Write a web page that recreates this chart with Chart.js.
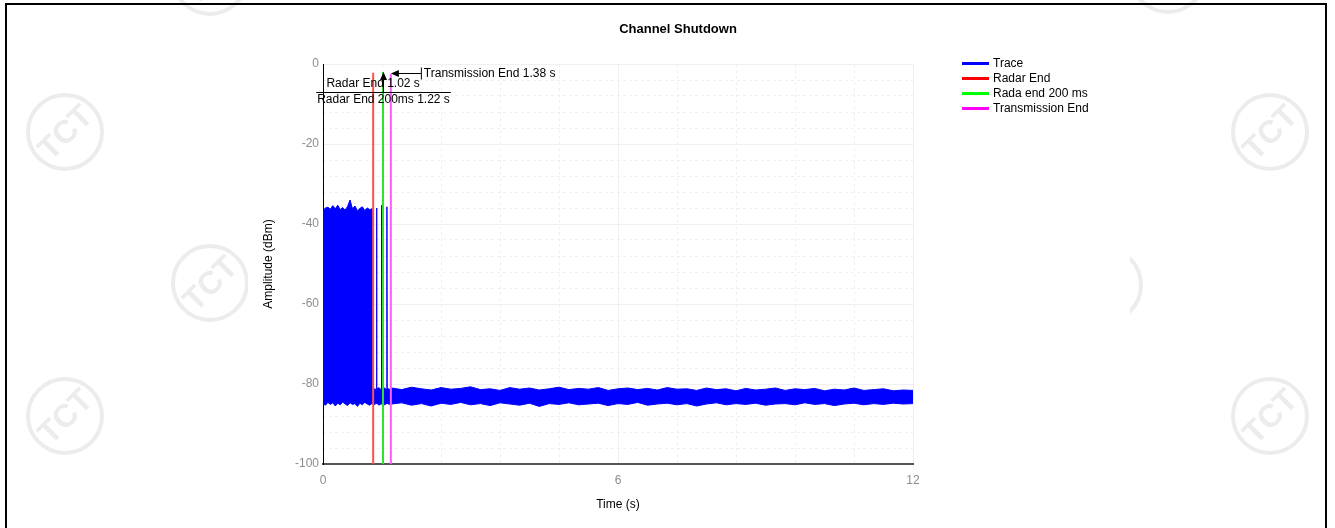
<!DOCTYPE html>
<html>
<head>
<meta charset="utf-8">
<script src="https://cdn.jsdelivr.net/npm/chart.js@4.4.1/dist/chart.umd.min.js"></script>
<style>
  html, body { margin: 0; padding: 0; background: #fff; }
  #wrap { position: relative; width: 1335px; height: 528px; overflow: hidden; }
  #chart { position: absolute; left: 0; top: 0; }
  #frame { position: absolute; left: 5px; top: 3px; width: 1318px; height: 600px; border: 2px solid #000; pointer-events: none; }
</style>
</head>
<body>
<div id="wrap">
  <canvas id="chart" width="1335" height="528"></canvas>
  <div id="frame"></div>
</div>
<script>
// time axis (s) of the envelope samples
const times = [
  0, 0.05, 0.1, 0.15, 0.2, 0.25, 0.3, 0.35, 0.4, 0.45,
  0.5, 0.55, 0.6, 0.65, 0.7, 0.75, 0.8, 0.85, 0.9, 0.95,
  1.0, 1.01, 1.015, 1.05, 1.085, 1.09, 1.095, 1.14, 1.185, 1.19,
  1.195, 1.25, 1.295, 1.3, 1.305, 1.35,
  1.4, 1.6, 1.8, 2.0, 2.2, 2.4, 2.6, 2.8, 3.0, 3.2,
  3.4, 3.6, 3.8, 4.0, 4.2, 4.4, 4.6, 4.8, 5.0, 5.2,
  5.4, 5.6, 5.8, 6.0, 6.2, 6.4, 6.6, 6.8, 7.0, 7.2,
  7.4, 7.6, 7.8, 8.0, 8.2, 8.4, 8.6, 8.8, 9.0, 9.2,
  9.4, 9.6, 9.8, 10.0, 10.2, 10.4, 10.6, 10.8, 11.0, 11.2,
  11.4, 11.6, 11.8, 12.0
];
// upper edge of the trace (dBm)
const traceUpper = [
  -36.6, -36.0, -35.8, -36.3, -35.4, -36.2, -35.3, -36.4, -35.9, -36.5,
  -35.6, -34.0, -36.2, -35.5, -36.7, -36.1, -35.7, -36.6, -36.0, -36.4,
  -36.2, -36.5, -81.6, -81.2, -81.4, -36.0, -81.3, -80.9, -81.5, -35.3,
  -81.2, -81.0, -81.4, -35.7, -81.1, -81.3,
  -81.0, -81.4, -80.8, -81.2, -81.5, -80.9, -81.3, -81.1, -80.7, -81.4,
  -81.2, -81.6, -80.9, -81.3, -81.0, -81.5, -81.2, -80.8, -81.4, -81.1,
  -81.3, -80.9, -81.6, -81.2, -81.0, -81.4, -81.1, -81.5, -80.9, -81.3,
  -81.2, -81.6, -81.0, -81.4, -81.2, -81.7, -81.1, -81.5, -81.3, -81.0,
  -81.6, -81.2, -81.4, -81.1, -81.7, -81.3, -81.5, -81.0, -81.6, -81.4,
  -81.2, -81.7, -81.5, -81.6
];
// lower edge of the trace (dBm)
const traceLower = [
  -84.9, -85.3, -84.6, -85.1, -84.7, -85.5, -84.8, -85.2, -84.5, -85.0,
  -85.4, -84.7, -85.1, -84.9, -85.6, -84.8, -85.2, -84.6, -85.0, -85.3,
  -84.8, -85.1, -84.9, -85.2, -84.7, -85.0, -84.8, -85.3, -84.9, -85.1,
  -84.7, -85.2, -84.9, -85.0, -84.8, -85.1,
  -85.0, -84.7, -85.3, -84.9, -85.5, -84.8, -85.1, -84.6, -85.2, -84.9,
  -85.4, -84.7, -85.0, -85.3, -84.8, -85.6, -84.9, -85.1, -84.7, -85.2,
  -85.0, -84.8, -85.4, -84.9, -85.1, -84.6, -85.3, -85.0, -84.8, -85.2,
  -84.9, -85.5, -85.0, -84.7, -85.2, -84.9, -85.1, -84.8, -85.3, -85.0,
  -84.9, -85.2, -84.7, -85.1, -84.9, -85.4, -85.0, -84.8, -85.2, -84.9,
  -85.1, -84.8, -85.0, -84.9
];

// marker lines: name, time (s), top of the line (dBm)
const markerNames = ['Radar End', 'Rada end 200 ms', 'Transmission End'];
const markerTimes = [1.02, 1.22, 1.38];
const markerTops = [-2.2, -2.0, -2.5];

const xTicks = [0, 6, 12];
const yTicks = [-100, -80, -60, -40, -20, 0];

const FONT = '"Liberation Sans", Arial, sans-serif';
Chart.defaults.font.family = FONT;
Chart.defaults.font.size = 12;

const markerColors = ['#ff5050', '#30e030', '#ff5cff'];
const legendColors = ['#0000ff', '#ff0000', '#00ff00', '#ff00ff'];

const datasets = [
  {
    label: 'Trace',
    legendColor: legendColors[0],
    data: times.map((t, i) => ({ x: t, y: traceUpper[i] })),
    borderColor: '#0000ff',
    backgroundColor: '#0000ff',
    borderWidth: 1,
    fill: '+1',
    order: 5
  },
  {
    label: 'Trace low',
    noLegend: true,
    data: times.map((t, i) => ({ x: t, y: traceLower[i] })),
    borderColor: '#0000ff',
    borderWidth: 1,
    fill: false,
    order: 5
  }
];
markerNames.forEach((name, i) => {
  datasets.push({
    label: name,
    legendColor: legendColors[i + 1],
    data: [{ x: markerTimes[i], y: -100 }, { x: markerTimes[i], y: markerTops[i] }],
    borderColor: markerColors[i],
    borderWidth: 2,
    fill: false,
    order: 1
  });
});

function arrowHead(ctx, x, y, dx, dy) {
  // filled head pointing along (dx, dy)
  const len = 8, half = 3.5;
  const px = -dy, py = dx;
  ctx.beginPath();
  ctx.moveTo(x, y);
  ctx.lineTo(x - dx * len + px * half, y - dy * len + py * half);
  ctx.lineTo(x - dx * len - px * half, y - dy * len - py * half);
  ctx.closePath();
  ctx.fill();
}

const watermarks = {
  id: 'watermarks',
  beforeDraw(chart) {
    const ctx = chart.ctx;
    const spots = [[65, 132], [65, 416], [1270, 132], [1270, 416], [210, 283], [1104, 285], [210, -23], [1168, -25]];
    ctx.save();
    ctx.beginPath();
    ctx.rect(0, 0, 1335, 528);
    ctx.rect(248, 0, 882, 528);
    ctx.clip('evenodd');
    ctx.strokeStyle = '#ececec';
    ctx.fillStyle = '#ececec';
    ctx.lineWidth = 4;
    spots.forEach(([cx, cy]) => {
      ctx.beginPath();
      ctx.arc(cx, cy, 37, 0, Math.PI * 2);
      ctx.stroke();
      ctx.save();
      ctx.translate(cx, cy);
      ctx.rotate(-Math.PI / 4);
      ctx.font = 'bold 32px ' + FONT;
      ctx.textAlign = 'center';
      ctx.textBaseline = 'middle';
      ctx.fillText('TCT', 0, 2);
      ctx.restore();
    });
    ctx.restore();
  }
};

const annotations = {
  id: 'annotations',
  afterDatasetsDraw(chart) {
    const ctx = chart.ctx;
    const sx = chart.scales.x, sy = chart.scales.y;
    ctx.save();
    ctx.fillStyle = '#000';
    ctx.strokeStyle = '#000';
    ctx.lineWidth = 1;
    ctx.font = '12px ' + FONT;
    ctx.textBaseline = 'middle';

    // Transmission End: arrow pointing left at the magenta line
    const tx = sx.getPixelForValue(markerTimes[2]);
    const ty = Math.round(sy.getPixelForValue(-2.2)) + 0.5;
    const tail = tx + 30;
    ctx.beginPath();
    ctx.moveTo(tail, ty);
    ctx.lineTo(tx + 4, ty);
    ctx.moveTo(tail + 0.5, ty - 6);
    ctx.lineTo(tail + 0.5, ty + 6);
    ctx.stroke();
    arrowHead(ctx, tx, ty, -1, 0);
    ctx.textAlign = 'left';
    ctx.fillText('Transmission End ' + markerTimes[2] + ' s', tail + 3, ty);

    // Radar End labels with the up arrow at the 200 ms line
    const label1 = 'Radar End ' + markerTimes[0].toFixed(2) + ' s';
    const label2 = 'Radar End 200ms ' + markerTimes[1].toFixed(2) + ' s';
    const gx = Math.round(sx.getPixelForValue(markerTimes[1])) + 0.5;
    const ly = Math.round(sy.getPixelForValue(-7.1)) + 0.5;
    const w2 = ctx.measureText(label2).width;
    ctx.beginPath();
    ctx.moveTo(gx - w2 / 2 - 1, ly);
    ctx.lineTo(gx + w2 / 2 + 1, ly);
    ctx.moveTo(gx, ly);
    ctx.lineTo(gx, sy.getPixelForValue(-2.0) + 4);
    ctx.stroke();
    arrowHead(ctx, gx, sy.getPixelForValue(-2.0), 0, -1);
    ctx.textAlign = 'center';
    ctx.fillText(label1, sx.getPixelForValue(markerTimes[0]), sy.getPixelForValue(-4.8));
    ctx.fillText(label2, gx, sy.getPixelForValue(-8.8));
    ctx.restore();
  },
  afterDraw(chart) {
    const ctx = chart.ctx;
    ctx.save();
    // title
    ctx.fillStyle = '#000';
    ctx.font = 'bold 13px ' + FONT;
    ctx.textAlign = 'center';
    ctx.textBaseline = 'middle';
    ctx.fillText('Channel Shutdown', 678, 29);
    // legend
    ctx.font = '12px ' + FONT;
    ctx.textAlign = 'left';
    let row = 0;
    chart.data.datasets.forEach(ds => {
      if (ds.noLegend) return;
      const y = 63.5 + row * 15;
      ctx.strokeStyle = ds.legendColor;
      ctx.lineWidth = 3;
      ctx.beginPath();
      ctx.moveTo(962, y);
      ctx.lineTo(989, y);
      ctx.stroke();
      ctx.fillStyle = '#000';
      ctx.fillText(ds.label, 993, y);
      row++;
    });
    ctx.restore();
  }
};

new Chart(document.getElementById('chart'), {
  type: 'line',
  data: { datasets },
  plugins: [watermarks, annotations],
  options: {
    responsive: false,
    animation: false,
    layout: { padding: { left: 257, right: 422, top: 64, bottom: 12 } },
    elements: { point: { radius: 0 }, line: { tension: 0 } },
    plugins: {
      legend: { display: false },
      title: { display: false },
      tooltip: { enabled: false }
    },
    scales: {
      x: {
        type: 'linear', position: 'bottom', min: 0, max: 12,
        afterBuildTicks: s => { s.ticks = xTicks.map(v => ({ value: v })); },
        afterFit: s => { s.height = 52; },
        ticks: { color: '#8c8c8c', padding: 9, font: { size: 12 } },
        grid: { color: '#efefef', drawTicks: false },
        border: { color: '#555', width: 2 },
        title: { display: true, text: 'Time (s)', color: '#000', font: { size: 12 }, padding: { top: 4, bottom: 4 } }
      },
      y: {
        type: 'linear', position: 'left', min: -100, max: 0,
        afterBuildTicks: s => { s.ticks = yTicks.map(v => ({ value: v })); },
        afterFit: s => { s.width = 66; },
        ticks: { color: '#8c8c8c', padding: 4, font: { size: 12 } },
        grid: { color: '#efefef', drawTicks: false },
        border: { color: '#000', width: 1 },
        title: { display: true, text: 'Amplitude (dBm)', color: '#000', font: { size: 12 }, padding: { top: 4, bottom: 4 } }
      },
      xMinor: {
        type: 'linear', position: 'bottom', min: 0, max: 12,
        afterFit: s => { s.height = 0; },
        ticks: { display: false, stepSize: 1.2 },
        grid: { color: '#f0f0f0', drawTicks: false },
        border: { display: false, dash: [3, 3] }
      },
      yMinor: {
        type: 'linear', position: 'left', min: -100, max: 0,
        afterFit: s => { s.width = 0; },
        ticks: { display: false, stepSize: 4 },
        grid: { color: '#f0f0f0', drawTicks: false },
        border: { display: false, dash: [3, 3] }
      }
    }
  }
});
</script>
</body>
</html>
